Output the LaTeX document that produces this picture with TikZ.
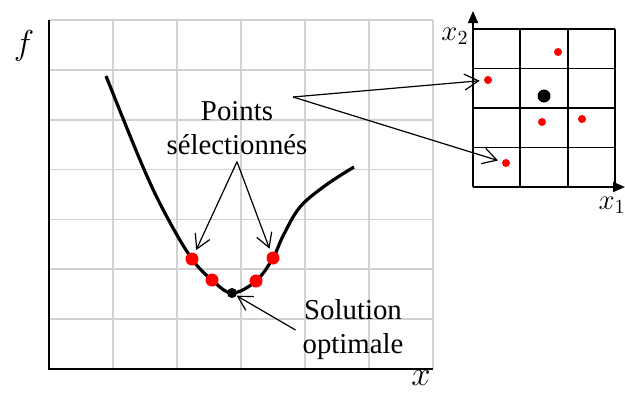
\documentclass[tikz,border=0pt]{standalone}
\usepackage{fontspec}
\setmainfont{Liberation Serif}
\usetikzlibrary{arrows.meta}

\tikzset{
  grille/.style={gray!35, line width=0.9pt},
  grillenoire/.style={black, line width=0.9pt},
  axe/.style={black, line width=1.2pt},
  courbe/.style={black, line width=1.6pt},
  fleche/.style={line width=0.6pt, -{Straight Barb[length=7pt,width=8pt]}},
  pointrouge/.style={circle, fill=red, inner sep=0pt, minimum size=#1},
  pointnoir/.style={circle, fill=black, inner sep=0pt, minimum size=#1},
  texte/.style={align=center, font=\fontsize{14.4}{17}\selectfont},
  etiquette/.style={font=\fontsize{17}{20}\selectfont}
}

\begin{document}
\begin{tikzpicture}[x=0.5pt,y=-0.5pt]
  \useasboundingbox (0,0) rectangle (625,392);

  % grille du graphe f(x)
  \foreach \i in {1,...,6}
    \draw[grille] (49+64*\i,20) -- (49+64*\i,369);
  \foreach \j in {0,...,6}
    \draw[grille] (49,20+49.86*\j) -- (433,20+49.86*\j);
  \draw[axe] (49,20) -- (49,369) -- (433,369);
  \node[etiquette] (f) at (24,46) {$f$};
  \node[etiquette] (x) at (421,378) {$x$};

  \draw[courbe] plot[smooth,tension=0.6] coordinates {(106,76) (143,167) (167,217)
    (192,259) (212,280) (232,293) (256,281) (273,258) (283,236) (300,207)
    (326,185) (354,167)};

  \node[pointrouge=6.5pt] (s1) at (192,259) {};
  \node[pointrouge=6.5pt] (s2) at (212,280) {};
  \node[pointrouge=6.5pt] (s3) at (256,281) {};
  \node[pointrouge=6.5pt] (s4) at (273,258) {};
  \node[pointnoir=5pt] (opt) at (232,293) {};

  \node[texte] (sel) at (237,128) {Points\\sélectionnés};
  \node[texte] (sol) at (353,330) {Solution\\optimale};
  \coordinate (depart) at (293,97);

  \draw[fleche, shorten >=1.5pt] (sel.south) -- (s1);
  \draw[fleche, shorten >=1.5pt] (sel.south) -- (s4);
  \draw[fleche] (sol.west) -- (opt);

  % grille de l'espace de recherche
  \foreach \i in {0,...,3}
    \draw[grillenoire] (473+47.33*\i,29) -- (473+47.33*\i,187);
  \foreach \j in {0,...,4}
    \draw[grillenoire] (473,29+39.5*\j) -- (615,29+39.5*\j);
  \draw[grillenoire, -{Triangle[length=6pt,width=5pt]}] (473,187) -- (473,11);
  \draw[grillenoire, -{Triangle[length=6pt,width=5pt]}] (473,187) -- (625,187);
  \node[font=\fontsize{14}{16}\selectfont] (x2) at (455,36) {$x_2$};
  \node[font=\fontsize{14}{16}\selectfont] (x1) at (612,205) {$x_1$};

  \node[pointrouge=4pt] (q1) at (558,52) {};
  \node[pointrouge=4pt] (q2) at (488,80) {};
  \node[pointrouge=4pt] (q3) at (542,122) {};
  \node[pointrouge=4pt] (q4) at (582,119) {};
  \node[pointrouge=4pt] (q5) at (506,163) {};
  \node[pointnoir=6.5pt] (qopt) at (544,96) {};

  \draw[fleche, shorten >=2pt] (depart) -- (q2);
  \draw[fleche, shorten >=2pt] (depart) -- (q5);
\end{tikzpicture}
\end{document}
